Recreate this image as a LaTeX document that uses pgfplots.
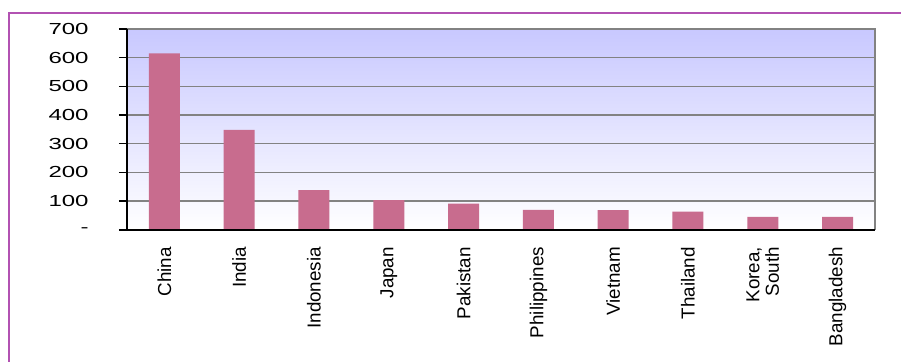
\documentclass[border=0pt]{standalone}
\usepackage{graphicx}
\usepackage{fontspec}
\setmainfont{Liberation Sans}
\usepackage{pgfplots}
\pgfplotsset{compat=1.18}
\definecolor{barpink}{RGB}{200,108,142}
\definecolor{framepurple}{RGB}{178,82,178}
\definecolor{lav}{RGB}{200,200,255}
\definecolor{gridgray}{RGB}{130,130,130}
\begin{document}
\begin{tikzpicture}
\useasboundingbox (0,0) rectangle (450.5pt,180.5pt);
\begin{scope}
\clip (0,0) rectangle (450.5pt,180.5pt);
\draw[framepurple, line width=1.2pt] (4.6pt,-20pt) -- (4.6pt,174pt) -- (470pt,174pt);
\end{scope}
\begin{axis}[
  at={(63.5pt,65.65pt)}, anchor=south west,
  scale only axis,
  width=374pt, height=100.35pt,
  xmin=-0.5, xmax=9.5,
  ymin=0, ymax=700,
  ytick={0,100,...,700},
  yticklabels={\scalebox{1.5}[1]{-},\scalebox{1.5}[1]{100},\scalebox{1.5}[1]{200},\scalebox{1.5}[1]{300},\scalebox{1.5}[1]{400},\scalebox{1.5}[1]{500},\scalebox{1.5}[1]{600},\scalebox{1.5}[1]{700}},
  xtick={0,...,9},
  xticklabels={China,India,Indonesia,Japan,Pakistan,Philippines,Vietnam,Thailand,{Korea,\\South},Bangladesh},
  minor xtick={-0.5,0.5,...,9.5},
  xtick pos=bottom, ytick pos=left,
  xtick style={draw=none},
  minor x tick style={black, line width=0.8pt},
  ytick style={black, line width=0.8pt},
  tick align=outside,
  major tick length=4pt,
  minor tick length=2.5pt,
  ymajorgrids,
  grid style={gridgray, line width=0.7pt},
  axis line style={draw=none},
  axis background/.style={top color=lav, bottom color=white},
  x tick label style={rotate=90, anchor=east, align=right, font=\fontsize{9.4}{9.8}\selectfont, inner sep=0pt, xshift=-4.5pt},
  y tick label style={font=\fontsize{8}{9}\selectfont, anchor=east, xshift=-15pt, inner sep=0pt},
  /pgf/number format/assume math mode=true,
  clip=false,
]
\draw[gridgray, line width=0.8pt] (rel axis cs:0,1) -- (rel axis cs:1,1) -- (rel axis cs:1,0);
\addplot[ybar, bar width=15.5pt, fill=barpink, draw=none] coordinates {
  (0,615) (1,348) (2,138) (3,103) (4,91) (5,69) (6,68) (7,63) (8,45) (9,45)
};
\draw[black, line width=1pt] (rel axis cs:0,1) -- (rel axis cs:0,0) -- (rel axis cs:1,0);
\end{axis}
\end{tikzpicture}
\end{document}
